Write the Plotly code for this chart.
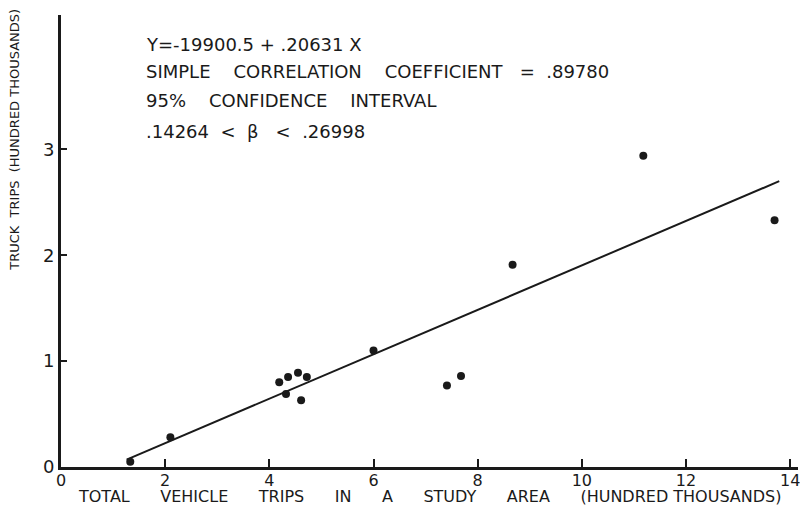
import plotly.graph_objects as go

# data in hundred thousands of trips
total_trips = [1.33, 2.10, 4.19, 4.36, 4.55, 4.72, 4.32, 4.61, 6.00, 7.41, 7.68, 8.67, 11.18, 13.70]
truck_trips = [0.05, 0.28, 0.80, 0.85, 0.89, 0.85, 0.69, 0.63, 1.10, 0.77, 0.86, 1.91, 2.94, 2.33]

# fitted line as drawn on the chart
fit_x = [1.26, 13.79]
fit_y = [0.07, 2.70]

x_ticks = [0, 2, 4, 6, 8, 10, 12, 14]
y_ticks = [0, 1, 2, 3]

S2 = "\u00a0 "
S3 = "\u00a0\u00a0 "
S4 = "\u00a0\u00a0\u00a0 "
S6 = "\u00a0" * 5 + " "
notes = [
    "Y=-19900.5 + .20631 X",
    "SIMPLE" + S4 + "CORRELATION" + S4 + "COEFFICIENT" + S3 + "=" + S2 + ".89780",
    "95%" + S4 + "CONFIDENCE" + S4 + "INTERVAL",
    ".14264" + S2 + "&lt;" + S2 + "\u03b2" + S3 + "&lt;" + S2 + ".26998",
]
# vertical position of each note line (fraction of plot height)
note_y = [0.934, 0.874, 0.81, 0.743]

FONT = "DejaVu Sans, sans-serif"
INK = "#1a1a1a"

fig = go.Figure()

fig.add_trace(go.Scatter(
    x=fit_x, y=fit_y,
    mode='lines',
    line=dict(color=INK, width=2),
    showlegend=False
))

fig.add_trace(go.Scatter(
    x=total_trips, y=truck_trips,
    mode='markers',
    marker=dict(color=INK, size=8),
    showlegend=False
))

# regression notes, one annotation per line
for txt, yy in zip(notes, note_y):
    fig.add_annotation(
        x=0.113, y=yy,
        xref='paper', yref='paper',
        xanchor='left', yanchor='middle',
        text=txt, showarrow=False,
        font=dict(family=FONT, size=18, color=INK)
    )

# y axis title as rotated annotation (centre near the top, like the original)
fig.add_annotation(
    x=-0.063, y=0.723, xref='paper', yref='paper',
    xanchor='center', yanchor='middle',
    text="TRUCK  TRIPS  (HUNDRED THOUSANDS)",
    showarrow=False, textangle=-90,
    font=dict(family=FONT, size=13, color=INK)
)

# x axis title
fig.add_annotation(
    x=0.5, y=-0.066, xref='paper', yref='paper',
    xanchor='center', yanchor='middle',
    text=S6.join(["TOTAL", "VEHICLE", "TRIPS", "IN", "A", "STUDY", "AREA", "(HUNDRED THOUSANDS)"]),
    showarrow=False,
    font=dict(family=FONT, size=16, color=INK)
)

fig.update_layout(
    width=792, height=500,
    margin=dict(l=53, r=0, t=7, b=41),
    plot_bgcolor='white',
    paper_bgcolor='white',
    font=dict(family=FONT, color=INK),
    xaxis=dict(
        range=[0, 14.15],
        tickvals=x_ticks,
        ticks='inside', ticklen=8, tickwidth=2, tickcolor=INK,
        showline=True, linewidth=3, linecolor=INK,
        showgrid=False, zeroline=False,
        ticklabeloverflow='allow',
        ticklabelstandoff=-3,
        tickfont=dict(size=16, color=INK)
    ),
    yaxis=dict(
        range=[0, 4.27],
        tickvals=y_ticks,
        ticks='inside', ticklen=6, tickwidth=2, tickcolor=INK,
        showline=True, linewidth=3, linecolor=INK,
        showgrid=False, zeroline=False,
        tickfont=dict(size=18, color=INK)
    )
)

fig.write_html("out.html")
